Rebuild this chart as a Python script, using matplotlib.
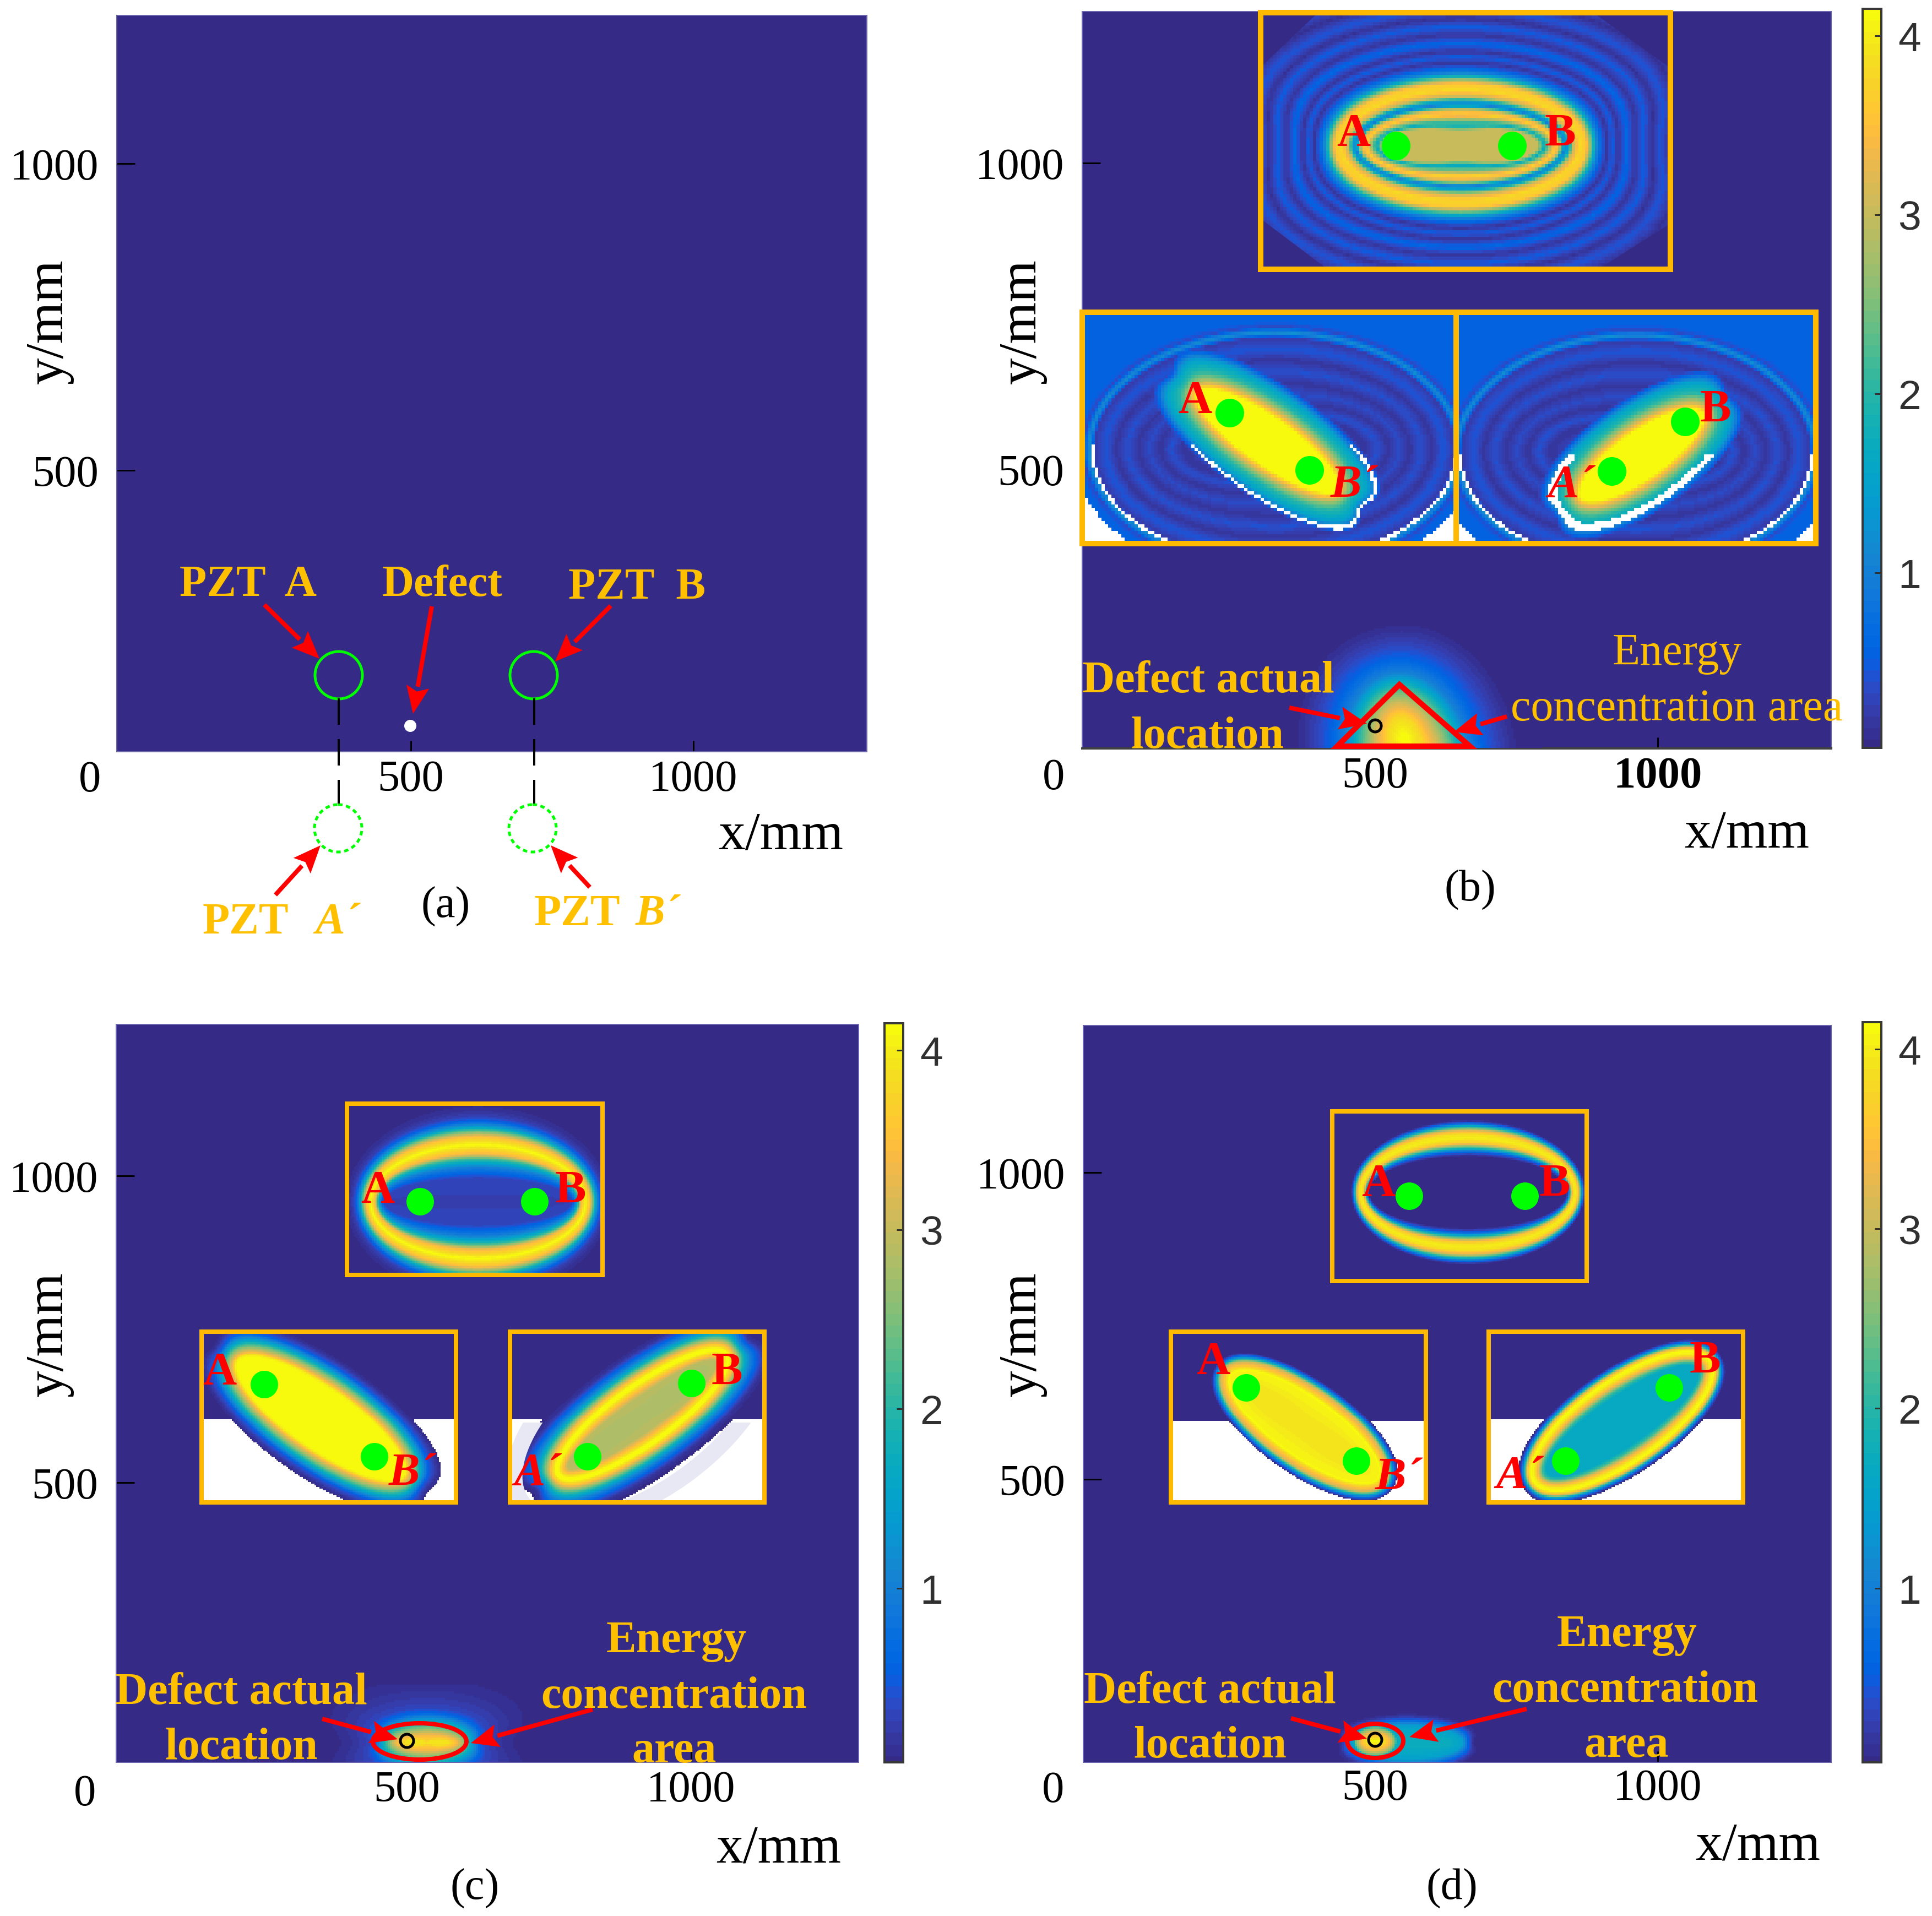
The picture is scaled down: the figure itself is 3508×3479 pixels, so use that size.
import numpy as np
import matplotlib
matplotlib.use("Agg")
import matplotlib.pyplot as plt
from matplotlib.colors import ListedColormap
from matplotlib.patches import Circle, Ellipse, Polygon, Rectangle

# ---------- values ----------
X_TICKS = [500, 1000]
X_TICK_LABELS = ["500", "1000"]
Y_TICKS = [500, 1000]
Y_TICK_LABELS = ["500", "1000"]
CBAR_TICKS = [1, 2, 3, 4]
CBAR_LABELS = ["1", "2", "3", "4"]
VMIN, VMAX = 0.0, 4.15

# The energy maps cannot be read cell by cell. Each one is stood in for by ellipses
# measured on the picture with value profiles read across their bands:
# T_* = distance from the ellipse in image pixels, V_* = colour-bar value read there.
T_b_top = [-110, -75, -63, -52, -44, -36, -26, -20, -12, 0, 12, 24, 32, 42, 50, 60, 70, 85, 100, 115, 130, 145, 165, 185, 205, 250]
V_b_top = [3.0, 3.0, 1.7, 2.8, 3.7, 3.2, 1.0, 1.5, 3.0, 3.8, 3.6, 2.0, 1.0, 0.45, 0.15, 0.5, 0.15, 0.6, 0.15, 0.5, 0.12, 0.45, 0.1, 0.4, 0.15, 0.3]
T_b_ring = [-200, -170, -150, -130, -110, -90, -70, -50, -30, -10, 0, 10, 20]
V_b_ring = [0.25, 0.15, 0.4, 0.15, 0.35, 0.15, 0.4, 0.15, 0.45, 0.2, 1.2, 0.35, 0.55]
T_b_core = [-8, 0, 10, 20, 35, 45, 55]
V_b_core = [4.14, 3.4, 2.6, 2.0, 1.5, 0.7, 0.0]
T_b_blob = [-90, -60, -35, -10, 0, 20, 45, 70, 100, 120]
V_b_blob = [4.1, 3.8, 3.1, 2.2, 1.8, 1.0, 0.55, 0.3, 0.08, 0.0]
T_c_top = [-30, -24, -18, -12, -8, 0, 8, 14, 20, 26, 32, 40, 52]
V_c_top = [0.25, 0.3, 1.0, 2.2, 3.4, 4.14, 3.5, 2.4, 1.3, 0.55, 0.25, 0.1, 0.0]
T_c_left = [-10, -5, 0, 12, 22, 30, 40, 48]
V_c_left = [4.14, 4.0, 3.4, 2.3, 1.3, 0.5, 0.15, 0.0]
T_c_right = [-40, -25, -15, -6, 0, 8, 15, 22, 30, 38, 46, 55, 65]
V_c_right = [2.85, 2.9, 3.5, 4.1, 4.14, 3.5, 2.6, 1.8, 1.0, 0.5, 0.15, 0.03, 0.0]
T_c_blob = [-30, -15, 0, 12, 25, 35, 60, 90, 110]
V_c_blob = [3.9, 3.4, 2.4, 1.5, 0.6, 0.3, 0.15, 0.05, 0.0]
T_d_top = [-14, -11, -8, -4, 0, 4, 8, 12, 15, 18, 20]
V_d_top = [0.05, 0.6, 2.0, 3.6, 4.0, 3.9, 3.2, 1.8, 0.7, 0.1, 0.0]
T_d_left = [-60, -15, -8, 0, 4, 8, 11, 14, 16]
V_d_left = [3.9, 4.1, 3.6, 3.1, 2.2, 1.2, 0.6, 0.2, 0.0]
T_d_right = [-30, -22, -14, -6, 0, 5, 9, 13, 16, 19, 21]
V_d_right = [1.65, 2.2, 3.3, 4.0, 4.14, 3.6, 2.5, 1.2, 0.5, 0.1, 0.0]
T_d_blob1 = [-20, 0, 6, 12, 18, 24]
V_d_blob1 = [1.7, 1.5, 1.0, 0.5, 0.15, 0.0]
T_d_blob2 = [-25, -10, 0, 6, 12]
V_d_blob2 = [4.1, 3.4, 2.4, 1.0, 0.0]

PARULA = [
 (0.2081,0.1663,0.5292),(0.2116,0.1898,0.5777),(0.2123,0.2138,0.6270),(0.2081,0.2386,0.6771),
 (0.1959,0.2645,0.7279),(0.1707,0.2919,0.7792),(0.1253,0.3242,0.8303),(0.0591,0.3598,0.8683),
 (0.0117,0.3875,0.8820),(0.0060,0.4086,0.8828),(0.0165,0.4266,0.8786),(0.0329,0.4430,0.8720),
 (0.0498,0.4586,0.8641),(0.0629,0.4737,0.8554),(0.0723,0.4887,0.8467),(0.0779,0.5040,0.8384),
 (0.0793,0.5200,0.8312),(0.0749,0.5375,0.8263),(0.0641,0.5570,0.8240),(0.0488,0.5772,0.8228),
 (0.0343,0.5966,0.8199),(0.0265,0.6137,0.8135),(0.0239,0.6287,0.8038),(0.0231,0.6418,0.7913),
 (0.0228,0.6535,0.7768),(0.0267,0.6642,0.7607),(0.0384,0.6743,0.7436),(0.0590,0.6838,0.7254),
 (0.0843,0.6928,0.7062),(0.1133,0.7015,0.6859),(0.1453,0.7098,0.6646),(0.1801,0.7177,0.6424),
 (0.2178,0.7250,0.6193),(0.2586,0.7317,0.5954),(0.3022,0.7376,0.5712),(0.3482,0.7424,0.5473),
 (0.3953,0.7459,0.5244),(0.4420,0.7481,0.5033),(0.4871,0.7491,0.4840),(0.5300,0.7491,0.4661),
 (0.5709,0.7485,0.4494),(0.6099,0.7473,0.4337),(0.6473,0.7456,0.4188),(0.6834,0.7435,0.4044),
 (0.7184,0.7411,0.3905),(0.7525,0.7384,0.3768),(0.7858,0.7356,0.3633),(0.8185,0.7327,0.3498),
 (0.8507,0.7299,0.3360),(0.8824,0.7274,0.3217),(0.9139,0.7258,0.3063),(0.9450,0.7261,0.2886),
 (0.9739,0.7314,0.2666),(0.9938,0.7455,0.2403),(0.9990,0.7653,0.2164),(0.9955,0.7861,0.1967),
 (0.9880,0.8066,0.1794),(0.9789,0.8271,0.1633),(0.9697,0.8481,0.1475),(0.9626,0.8705,0.1309),
 (0.9589,0.8949,0.1132),(0.9598,0.9218,0.0948),(0.9661,0.9514,0.0755),(0.9763,0.9831,0.0538)]
cmap = ListedColormap(PARULA)
cmap.set_bad("white")

W, H = 3508, 3480
SERIF = "Liberation Serif"
SANS = "Liberation Sans"
ORANGE = "#FFB900"
TXT = "#FFC000"
RED = "#FF0000"
GREEN = "#00FF00"
PT = 0.72

plt.rcParams["font.family"] = [SERIF, "DejaVu Serif"]
fig = plt.figure(figsize=(W / 100, H / 100), dpi=100, facecolor="white")


def add_axes_px(x0, y0, x1, y1, **kw):
    return fig.add_axes([x0 / W, 1 - y1 / H, (x1 - x0) / W, (y1 - y0) / H], **kw)


def main_axes(box, xlim, ylim, bold_1000=False, bottom_dark=False, xpad=14):
    ax = add_axes_px(*box)
    ax.imshow(np.zeros((2, 2)), cmap=cmap, vmin=VMIN, vmax=VMAX, aspect="auto",
              extent=[xlim[0], xlim[1], ylim[0], ylim[1]], origin="lower",
              interpolation="nearest")
    ax.set_xlim(xlim)
    ax.set_ylim(ylim)
    ax.set_xticks(X_TICKS, X_TICK_LABELS)
    ax.set_yticks(Y_TICKS, Y_TICK_LABELS)
    ax.tick_params(axis="x", direction="in", length=20 * PT, width=3 * PT, pad=xpad * PT,
                   labelsize=58, colors="black")
    ax.tick_params(axis="y", direction="in", length=33 * PT, width=3 * PT, pad=33 * PT,
                   labelsize=58, colors="black")
    for lab in ax.get_xticklabels() + ax.get_yticklabels():
        lab.set_fontfamily(SERIF)
    if bold_1000:
        ax.get_xticklabels()[1].set_fontweight("bold")
    for s in ax.spines.values():
        s.set_color("#6A64AE")
        s.set_linewidth(2 * PT)
    if bottom_dark:
        ax.spines["bottom"].set_color("#404040")
        ax.spines["bottom"].set_linewidth(4 * PT)
    return ax


def cbar_axes(box, vlow):
    ax = add_axes_px(*box)
    grad = np.linspace(VMIN, VMAX, 256).reshape(-1, 1)
    ax.imshow(grad, cmap=cmap, vmin=VMIN, vmax=VMAX, aspect="auto", origin="lower",
              extent=[0, 1, VMIN, VMAX])
    ax.set_ylim(vlow, VMAX)
    ax.set_xticks([])
    ax.yaxis.tick_right()
    ax.set_yticks(CBAR_TICKS, CBAR_LABELS)
    ax.tick_params(axis="y", direction="in", length=12 * PT, width=3 * PT, pad=30 * PT,
                   labelsize=54, labelcolor="#303030", color="#303030")
    for lab in ax.get_yticklabels():
        lab.set_fontfamily(SANS)
    for s in ax.spines.values():
        s.set_color("#383838")
        s.set_linewidth(4 * PT)


# panel axes: pixel boxes and limits
main_axes((212, 29, 1574, 1366), (-20.5, 1307), (41, 1241.5))
main_axes((1965, 22, 3325, 1360), (-18.5, 1307), (44, 1247), bold_1000=True, bottom_dark=True)
main_axes((211, 1861, 1559, 3201), (-11.6, 1294.6), (44, 1247))
main_axes((1967, 1863, 3325, 3201), (-16.6, 1307), (38.6, 1240), xpad=11)
cbar_axes((3382, 17, 3416, 1359), 0.02)
cbar_axes((1606, 1859, 1640, 3201), 0.03)
cbar_axes((3382, 1857, 3416, 3201), 0.03)

ov = fig.add_axes([0, 0, 1, 1], zorder=20)
ov.patch.set_visible(False)
ov.axis("off")


def coord(X, Y, layer):
    cx, cy, a, b, ang, mode = layer[:6]
    th = np.deg2rad(ang)
    dx, dy = X - cx, Y - cy
    u = dx * np.cos(th) + dy * np.sin(th)
    w = -dx * np.sin(th) + dy * np.cos(th)
    if mode == "focal":
        c = np.sqrt(max(a * a - b * b, 0))
        return 0.5 * (np.hypot(u - c, w) + np.hypot(u + c, w)) - a
    k0 = np.hypot(u / a, w / b)
    k1 = np.hypot(u / a ** 2, w / b ** 2)
    return k0 * (k0 - 1) / np.maximum(k1, 1e-9)


def field(region, layers, cell=3, line=None, white=(), clip=None, z=2):
    x0, y0, x1, y1 = region
    xs = np.arange(x0 + cell / 2, x1, cell)
    ys = np.arange(y0 + cell / 2, y1, cell)
    X, Y = np.meshgrid(xs, ys)
    v = np.zeros_like(X)
    ts = []
    for lay in layers:
        t = coord(X, Y, lay)
        ts.append(t)
        v = np.maximum(v, np.interp(t, lay[6], lay[7]))
    if line is not None:
        for idx, t0, t1 in white:
            v[(Y > line) & (ts[idx] > t0) & (ts[idx] < t1)] = np.nan
    im = ov.imshow(v, cmap=cmap, vmin=VMIN, vmax=VMAX, extent=[x0, x1, y1, y0],
                   aspect="auto", interpolation="nearest", zorder=z)
    if clip is not None:
        p = Polygon(clip, closed=True, transform=ov.transData)
        im.set_clip_path(p)
    return im


def box(x0, y0, x1, y1, lw=9):
    ov.add_patch(Rectangle((x0, y0), x1 - x0, y1 - y0, fill=False, ec=ORANGE, lw=lw * PT, zorder=4))


def dot(x, y, r=26):
    ov.add_patch(Circle((x, y), r, fc=GREEN, ec="none", zorder=5))


def label(x, y, s, size=61, color=RED, weight="bold", style="normal", ha="center", va="baseline", **kw):
    ov.text(x, y, s, fontsize=size, color=color, fontweight=weight, fontstyle=style,
            fontfamily=SERIF, ha=ha, va=va, zorder=8, **kw)


def arrow(x0, y0, x1, y1, hl=50, hw=42, lw=8):
    d = np.array([x1 - x0, y1 - y0], float)
    d /= np.hypot(*d)
    n = np.array([-d[1], d[0]])
    tip = np.array([x1, y1], float)
    base = tip - d * hl
    ov.plot([x0, base[0]], [y0, base[1]], color=RED, lw=lw * PT, solid_capstyle="butt", zorder=7)
    ov.add_patch(Polygon([tip, base + n * hw / 2, tip - d * hl * 0.82, base - n * hw / 2],
                         closed=True, fc=RED, ec="none", zorder=7))


# ---------- panel (a) ----------
for cx in (615, 969):
    ov.add_patch(Circle((cx, 1227), 43, fill=False, ec=GREEN, lw=5 * PT, zorder=5))
for cx in (614, 967):
    ov.add_patch(Circle((cx, 1505), 43, fill=False, ec=GREEN, lw=5 * PT, ls=(0, (1.6, 1.3)), zorder=5))
for cx in (615, 970):
    for a0, a1 in ((1269, 1317), (1343, 1391), (1417, 1460)):
        ov.plot([cx, cx], [a0, a1], color="black", lw=4 * PT, solid_capstyle="butt", zorder=5)
ov.add_patch(Circle((745, 1319), 11, fc="white", ec="none", zorder=5))
label(450, 1082, "PZT  A", 58, TXT)
label(803, 1082, "Defect", 58, TXT)
label(1157, 1087, "PZT  B", 58, TXT)
label(446, 1695, "PZT", 58, TXT)
label(612, 1695, "A\u00b4", 58, TXT, style="italic")
label(1048, 1680, "PZT", 58, TXT)
label(1194, 1680, "B\u00b4", 58, TXT, style="italic")
arrow(480, 1099, 580, 1197)
arrow(784, 1102, 750, 1297)
arrow(1109, 1101, 1008, 1202)
arrow(500, 1626, 582, 1536)
arrow(1071, 1612, 1000, 1536)
label(163, 1437, "0", 58, "black", "normal")
label(1418, 1542, "x/mm", 70, "black", "normal")
label(809, 1646, "(a)", 58, "black", "normal", va="center")
label(90, 584, "y/mm", 70, "black", "normal", va="center", rotation=90)

# ---------- panel (b) ----------
r = (2294, 29, 3028, 485)
field(r, [(2651, 265, 215, 100, 0, "sdf", T_b_top, V_b_top)], cell=6,
      clip=[(2294, 118), (2388, 29), (2900, 29), (3028, 121), (3028, 410), (2910, 485),
            (2404, 485), (2294, 402)])
box(2289, 24, 3033, 490, 10)
dot(2535, 266); dot(2746, 266)
label(2458, 265, "A"); label(2833, 265, "B")

field((1970, 573, 2644, 983),
      [(2313, 815, 335, 210, 0, "sdf", T_b_ring, V_b_ring),
       (2300, 800, 162, 50, 35, "sdf", T_b_core, V_b_core)],
      cell=6, line=807, white=[(0, 30, 1e9), (1, 42, 47), (0, -8, -2)])
field((2649, 573, 3292, 983),
      [(2970, 820, 325, 210, 0, "sdf", T_b_ring, V_b_ring),
       (2980, 826, 141, 50, -35, "sdf", T_b_core, V_b_core)],
      cell=6, line=822, white=[(0, 45, 1e9), (1, 28, 40), (0, -8, -2)])
box(1965, 568, 2644, 988, 10)
box(2644, 568, 3297, 988, 10)
dot(2233, 751); dot(2378, 855); dot(2927, 857); dot(3060, 767)
label(2170, 750, "A"); label(2458, 903, "B\u00b4", style="italic")
label(3115, 766, "B"); label(2853, 903, "A\u00b4", style="italic")

field((2330, 1130, 2800, 1359), [(2555, 1365, 90, 125, -15, "sdf", T_b_blob, V_b_blob)], cell=4)
ov.add_patch(Polygon([(2541, 1244), (2428, 1356), (2669, 1356)], closed=True, fill=False,
                     ec=RED, lw=10 * PT, zorder=6))
ov.add_patch(Circle((2497, 1319), 11, fill=False, ec="black", lw=5 * PT, zorder=6))
arrow(2341, 1286, 2482, 1315)
arrow(2736, 1302, 2640, 1330)
label(2194, 1257, "Defect actual", 59, TXT)
label(2192, 1358, "location", 59, TXT)
label(3045, 1207, "Energy", 59, TXT, "normal")
label(3045, 1308, "concentration area", 59, TXT, "normal")
label(1913, 1433, "0", 58, "black", "normal")
label(3172, 1539, "x/mm", 70, "black", "normal")
label(2669, 1616, "(b)", 58, "black", "normal", va="center")
label(1857, 584, "y/mm", 70, "black", "normal", va="center", rotation=90)

# ---------- panel (c) ----------
field((634, 2009, 1090, 2312), [(868, 2183, 195, 103, 0, "focal", T_c_top, V_c_top)])
field((370, 2423, 824, 2725), [(582, 2577, 190, 62, 35, "sdf", T_c_left, V_c_left)],
      line=2580, white=[(0, 46, 1e9)])
field((930, 2423, 1384, 2725), [(1166, 2570, 190, 55, -36, "sdf", T_c_right, V_c_right)],
      line=2580, white=[(0, 58, 1e9)])
arc = Ellipse((1166, 2570), 2 * 270, 2 * 135, angle=-36, fill=False, ec="#E8E8F4", lw=30 * PT, zorder=3)
ov.add_patch(arc)
arc.set_clip_path(Rectangle((930, 2584), 454, 141, transform=ov.transData))
box(630, 2005, 1094, 2316, 8)
box(366, 2419, 828, 2729, 8)
box(926, 2419, 1388, 2729, 8)
dot(763, 2183, 25); dot(971, 2183, 25); dot(480, 2515, 25); dot(680, 2646, 25); dot(1067, 2646, 25); dot(1256, 2513, 25)
label(686, 2184, "A"); label(1036, 2184, "B")
label(399, 2514, "A"); label(748, 2697, "B\u00b4", style="italic")
label(1320, 2514, "B"); label(976, 2697, "A\u00b4", style="italic")
field((600, 3060, 1000, 3200), [(775, 3165, 70, 28, 0, "sdf", T_c_blob, V_c_blob)], cell=4)
ov.add_patch(Ellipse((762, 3163), 170, 66, fill=False, ec=RED, lw=8 * PT, zorder=6))
ov.add_patch(Circle((739, 3162), 12, fill=False, ec="black", lw=5 * PT, zorder=6))
arrow(585, 3122, 722, 3159)
arrow(1076, 3105, 855, 3166)
label(438, 3094, "Defect actual", 59, TXT)
label(438, 3194, "location", 59, TXT)
label(1228, 3000, "Energy", 59, TXT)
label(1224, 3101, "concentration", 59, TXT)
label(1224, 3200, "area", 59, TXT)
label(154, 3278, "0", 58, "black", "normal")
label(1414, 3382, "x/mm", 70, "black", "normal")
label(862, 3429, "(c)", 58, "black", "normal", va="center")
label(90, 2423, "y/mm", 70, "black", "normal", va="center", rotation=90)

# ---------- panel (d) ----------
field((2423, 2023, 2877, 2323), [(2665, 2166, 193, 97.5, 0, "focal", T_d_top, V_d_top)])
field((2130, 2423, 2585, 2725), [(2369, 2592, 180, 70, 35, "sdf", T_d_left, V_d_left)],
      line=2582, white=[(0, 16, 1e9)])
field((2707, 2423, 3161, 2725), [(2945, 2582, 195, 75, -35, "sdf", T_d_right, V_d_right)],
      line=2580, white=[(0, 21, 1e9)])
box(2419, 2019, 2881, 2327, 8)
box(2126, 2419, 2589, 2729, 8)
box(2703, 2419, 3165, 2729, 8)
dot(2559, 2173, 25); dot(2769, 2173, 25); dot(2263, 2521, 25); dot(2463, 2654, 25); dot(2843, 2654, 25); dot(3031, 2521, 25)
label(2503, 2172, "A"); label(2823, 2172, "B")
label(2203, 2495, "A"); label(2539, 2705, "B\u00b4", style="italic")
label(3096, 2493, "B"); label(2759, 2702, "A\u00b4", style="italic")
field((2420, 3100, 2700, 3200),
      [(2555, 3165, 100, 30, 0, "sdf", T_d_blob1, V_d_blob1),
       (2497, 3163, 36, 25, 0, "sdf", T_d_blob2, V_d_blob2)], cell=4)
ov.add_patch(Ellipse((2497, 3162), 102, 62, fill=False, ec=RED, lw=8 * PT, zorder=6))
ov.add_patch(Circle((2497, 3160), 12, fill=False, ec="black", lw=5 * PT, zorder=6))
arrow(2344, 3121, 2482, 3158)
arrow(2772, 3104, 2559, 3155)
label(2197, 3092, "Defect actual", 59, TXT)
label(2197, 3191, "location", 59, TXT)
label(2954, 2989, "Energy", 59, TXT)
label(2951, 3090, "concentration", 59, TXT)
label(2953, 3190, "area", 59, TXT)
label(1912, 3272, "0", 58, "black", "normal")
label(3192, 3377, "x/mm", 70, "black", "normal")
label(2636, 3429, "(d)", 58, "black", "normal", va="center")
label(1857, 2423, "y/mm", 70, "black", "normal", va="center", rotation=90)

ov.set_xlim(0, W)
ov.set_ylim(H, 0)
fig.savefig("out.png", dpi=100, facecolor="white")
